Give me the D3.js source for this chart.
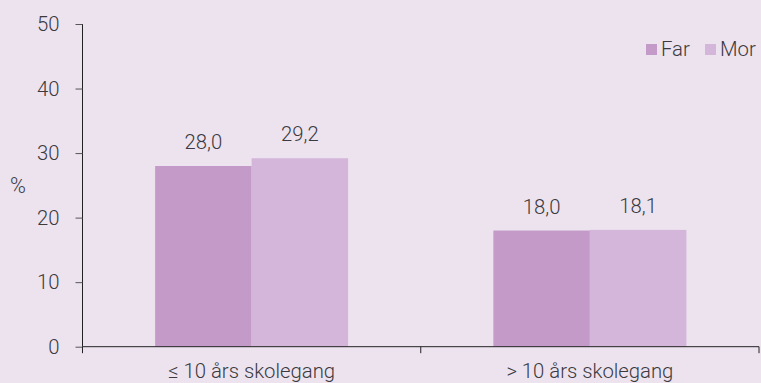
<!DOCTYPE html>
<html><head><meta charset="utf-8">
<script src="https://cdn.jsdelivr.net/npm/d3@7"></script>
<style>
html,body{margin:0;padding:0;background:#ede3ef;}
text{font-family:Roboto,"Liberation Sans",Arial,sans-serif;font-weight:300;fill:#3a3a40;}
</style></head>
<body>
<svg id="chart" width="761" height="383"></svg>
<script>
const categories = ["≤ 10 års skolegang", "> 10 års skolegang"];
const seriesNames = ["Far", "Mor"];
const farValues = [28.0, 18.0];
const morValues = [29.2, 18.1];
const yTicks = [0, 10, 20, 30, 40, 50];
const colors = ["#c39ac8", "#d3b6d9"];

const FS = "20.3px";
const svg = d3.select("#chart");
const W = 761, H = 383;
svg.append("rect").attr("width", W).attr("height", H).attr("fill", "#ede3ef");

const x0 = 82.5, x1 = 759, yTop = 24, yBot = 346.7;
const x = d3.scaleBand().domain(categories).range([x0, x1]).paddingInner(0).paddingOuter(0);
const y = d3.scaleLinear().domain([0, 50]).range([yBot, yTop]);
const groupW = 193;
const xs = d3.scaleBand().domain(seriesNames).range([0, groupW]);

const data = categories.map((c, i) => ({cat: c, vals: [farValues[i], morValues[i]]}));
const fmt = v => v.toFixed(1).replace(".", ",");

const g = svg.append("g");
data.forEach(d => {
  const gx = x(d.cat) + x.bandwidth() / 2 - groupW / 2;
  d.vals.forEach((v, j) => {
    g.append("rect")
      .attr("x", gx + xs(seriesNames[j]))
      .attr("y", y(v))
      .attr("width", xs.bandwidth())
      .attr("height", y(0) - y(v))
      .attr("fill", colors[j]);
    g.append("text")
      .attr("x", gx + xs(seriesNames[j]) + xs.bandwidth() / 2)
      .attr("y", y(v) - 17)
      .attr("text-anchor", "middle")
      .attr("font-size", FS)
      .text(fmt(v));
  });
});

// y axis
const yAxis = d3.axisLeft(y).tickValues(yTicks).tickSize(7).tickPadding(16).tickFormat(d3.format("d"));
const ya = svg.append("g").attr("transform", `translate(${x0},0)`).call(yAxis);
ya.attr("font-size", null).attr("font-family", null);
ya.select(".domain").attr("stroke", "#222").attr("d", `M0,${yTop}V${yBot}`);
ya.selectAll(".tick line").attr("stroke", "#555");
ya.selectAll(".tick text").attr("font-size", FS).attr("fill", "#3a3a40");

// x axis
const xAxis = d3.axisBottom(x).tickSize(0).tickPadding(17);
const xa = svg.append("g").attr("transform", `translate(0,${yBot})`).call(xAxis);
xa.attr("font-size", null).attr("font-family", null);
xa.select(".domain").attr("stroke", "#222").attr("d", `M${x0},0H${x1}`);
xa.selectAll(".tick text").attr("font-size", FS).attr("fill", "#3a3a40").attr("dy", "0.71em");
// boundary ticks
const bounds = [x0, x(categories[1]), x1];
xa.selectAll(".btick").data(bounds).enter().append("line")
  .attr("x1", d => d).attr("x2", d => d).attr("y1", 0).attr("y2", 6.5)
  .attr("stroke", "#222");

// % label
svg.append("text").attr("x", 18).attr("y", 193).attr("text-anchor", "middle")
  .attr("font-size", "21.5px").text("%");

// legend
const legX = [646, 705];
seriesNames.forEach((s, j) => {
  svg.append("rect").attr("x", legX[j]).attr("y", 44).attr("width", 11).attr("height", 11).attr("fill", colors[j]);
  svg.append("text").attr("x", legX[j] + 15).attr("y", 55.5).attr("font-size", FS).text(s);
});
</script>
</body></html>
